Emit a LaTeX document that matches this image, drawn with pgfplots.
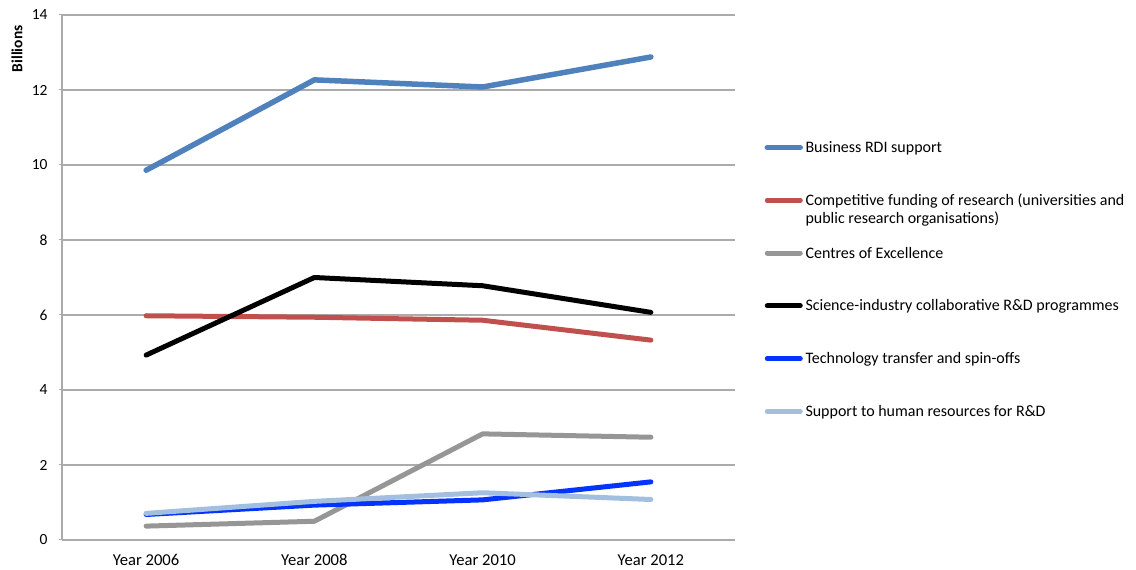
\documentclass[border=0pt]{standalone}
\usepackage{pgfplots}
\pgfplotsset{compat=1.18}
\usepackage{fontspec}
\setmainfont{Carlito}
\definecolor{cBus}{HTML}{4F81BD}
\definecolor{cComp}{HTML}{C0504D}
\definecolor{cCent}{HTML}{969696}
\definecolor{cSci}{HTML}{000000}
\definecolor{cTech}{HTML}{0433FF}
\definecolor{cHR}{HTML}{A3BFE0}
\definecolor{cGrid}{HTML}{ABABAB}
\begin{document}
\fontsize{16}{18}\selectfont
\begin{tikzpicture}
\path[use as bounding box] (-62pt,-30pt) rectangle (1074pt,540pt);
\begin{axis}[
  at={(0pt,0pt)}, anchor=south west,
  scale only axis, width=673pt, height=525pt,
  xmin=-0.5, xmax=3.5, ymin=0, ymax=14,
  xtick={0,1,2,3},
  xticklabels={Year 2006,Year 2008,Year 2010,Year 2012},
  major x tick style={draw=none},
  extra x ticks={-0.5,0.5,1.5,2.5,3.5},
  extra x tick labels={},
  extra x tick style={major tick style={draw=cGrid, line width=1pt}, major tick length=7pt, grid=none},
  ytick={0,2,4,6,8,10,12,14},
  ymajorgrids,
  grid style={draw=cGrid, line width=1.2pt},
  major y tick style={draw=cGrid, line width=1pt},
  major tick length=6pt,
  tick align=outside,
  axis lines=left,
  axis line style={draw=cGrid, line width=1.2pt, -},
  separate axis lines,
  every axis x line/.append style={-},
  every axis y line/.append style={-},
  /pgf/number format/assume math mode=true,
  yticklabel style={font=\fontsize{15.5}{18}\selectfont, xshift=-6pt},
  xticklabel style={font=\fontsize{16.6}{18}\selectfont, yshift=-6pt},
  ylabel={\textbf{Billions}},
  ylabel style={at={(axis description cs:-0.0669,0.9905)}, anchor=east, font=\fontsize{15.5}{18}\selectfont},
  legend style={at={(rel axis cs:1,1)}, anchor=north west, xshift=29.5pt, yshift=-125pt,
    draw=none, fill=none, inner sep=0pt, outer sep=0pt,
    row sep=37.8pt, /tikz/column sep=0pt,
    nodes={inner sep=0pt, anchor=west},
    font=\fontsize{16}{18}\selectfont},
  legend cell align=left,
  legend image code/.code={\draw[#1, line cap=round] (0pt,0pt) -- (33pt,0pt); \path (35.5pt,0pt);},
  every axis plot/.append style={line join=round, line cap=round, line width=5pt},
]
\addplot[color=cBus, line width=5.5pt] coordinates {(0,9.86) (1,12.27) (2,12.08) (3,12.88)};
\addlegendentry{\strut Business RDI support}
\addplot[color=cComp] coordinates {(0,5.98) (1,5.94) (2,5.86) (3,5.33)};
\addlegendentry{\strut\smash{\begin{tabular}[t]{@{}l@{}}Competitive funding of research (universities and\\public research organisations)\end{tabular}}}
\addplot[color=cCent] coordinates {(0,0.37) (1,0.50) (2,2.83) (3,2.74)};
\addlegendentry{\strut Centres of Excellence}
\addplot[color=cSci] coordinates {(0,4.93) (1,7.00) (2,6.78) (3,6.07)};
\addlegendentry{\strut Science-industry collaborative R\&D programmes}
\addplot[color=cTech] coordinates {(0,0.68) (1,0.93) (2,1.07) (3,1.55)};
\addlegendentry{\strut Technology transfer and spin-offs}
\addplot[color=cHR] coordinates {(0,0.71) (1,1.03) (2,1.26) (3,1.08)};
\addlegendentry{\strut Support to human resources for R\&D}
\end{axis}
\end{tikzpicture}
\end{document}
